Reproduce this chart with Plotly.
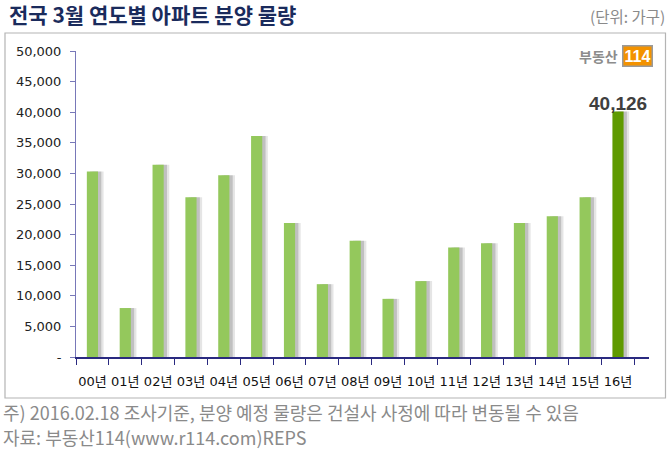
import plotly.graph_objects as go

years = ["00년", "01년", "02년", "03년", "04년", "05년", "06년", "07년", "08년",
         "09년", "10년", "11년", "12년", "13년", "14년", "15년", "16년"]
supply = [30300, 8000, 31400, 26100, 29700, 36100, 21900, 11900, 19000,
          9500, 12400, 17900, 18600, 21900, 23000, 26100, 40126]
ytick_vals = [0, 5000, 10000, 15000, 20000, 25000, 30000, 35000, 40000, 45000, 50000]
ytick_text = ["-", "5,000", "10,000", "15,000", "20,000", "25,000", "30,000",
              "35,000", "40,000", "45,000", "50,000"]

W, H = 670, 452
L, R, T, B = 76, 21, 51, 95
pw, ph = W - L - R, H - T - B


def px(xp):
    return (xp - L) / pw


def py(yp):
    return (H - B - yp) / ph


light = "#94c85c"
dark = "#5f9a00"
colors = [light] * (len(years) - 1) + [dark]
bw = 0.34

fig = go.Figure()
# soft shadow layers
for off, alpha in [(0.17, 0.10), (0.10, 0.16)]:
    fig.add_trace(go.Bar(x=years, y=supply, width=[bw] * len(years),
                         offset=-bw / 2 + off,
                         marker=dict(color=f"rgba(0,0,0,{alpha})", line=dict(width=0)),
                         hoverinfo="skip", showlegend=False))
fig.add_trace(go.Bar(x=years, y=supply, width=[bw] * len(years), offset=-bw / 2,
                     marker=dict(color=colors, line=dict(width=0)), showlegend=False))

fig.update_layout(
    width=W, height=H, margin=dict(l=L, r=R, t=T, b=B),
    paper_bgcolor="white", plot_bgcolor="white",
    barmode="overlay", showlegend=False,
    font=dict(family="DejaVu Sans, Noto Sans CJK KR", size=13, color="#222222"),
    xaxis=dict(type="category", showline=True, linecolor="#2a2a80", linewidth=1.5,
               ticks="outside", tickson="boundaries", ticklen=6, tickcolor="#2a2a80",
               tickangle=0, ticklabelstandoff=12,
               tickfont=dict(family="DejaVu Sans, Noto Sans CJK KR", size=13, color="#111111"),
               showgrid=False, zeroline=False, fixedrange=True),
    yaxis=dict(range=[0, 50000], tickvals=ytick_vals, ticktext=ytick_text,
               showline=True, linecolor="#7878b8", linewidth=1, ticks="outside",
               ticklen=5, tickcolor="#7878b8", showgrid=False, zeroline=False,
               tickfont=dict(family="DejaVu Sans", size=13, color="#222222"),
               ticklabelstandoff=6),
)

# value label for latest year
fig.add_annotation(x=years[-1], y=supply[-1], text=f"<b>{supply[-1]:,}</b>",
                   showarrow=False, yanchor="bottom", yshift=-5,
                   font=dict(family="Liberation Sans", size=19, color="#3f3f3f"))

# frame
fig.add_shape(type="rect", xref="paper", yref="paper",
              x0=px(5), x1=px(665.5), y0=py(398), y1=py(33),
              line=dict(color="#b4b4b4", width=1.2), layer="below")

# title
fig.add_annotation(xref="paper", yref="paper", x=px(7), y=py(14), xanchor="left",
                   yanchor="middle", showarrow=False,
                   text="<b>전국 3월 연도별 아파트 분양 물량</b>",
                   font=dict(family="Noto Sans CJK KR", size=21, color="#1a2b5c"))
fig.add_annotation(xref="paper", yref="paper", x=px(667), y=py(16), xanchor="right",
                   yanchor="middle", showarrow=False, text="(단위: 가구)",
                   font=dict(family="Noto Sans CJK KR", size=15.5, color="#8a8a8a"))

# logo
fig.add_annotation(xref="paper", yref="paper", x=px(620), y=py(56), xanchor="right",
                   yanchor="middle", showarrow=False, text="<b>부동산</b>",
                   font=dict(family="Noto Sans CJK KR", size=14, color="#8c8c8c"))
fig.add_annotation(xref="paper", yref="paper", x=px(622), y=py(56), xanchor="left",
                   yanchor="middle", showarrow=False, text="<b>114</b>",
                   bgcolor="#f39200", bordercolor="#9a9a9a", borderwidth=1.5, borderpad=1,
                   font=dict(family="Liberation Sans Narrow, Liberation Sans", size=16,
                             color="white"))

# footnotes
fig.add_annotation(xref="paper", yref="paper", x=px(1), y=py(412), xanchor="left",
                   yanchor="middle", showarrow=False,
                   text="주) 2016.02.18 조사기준, 분양 예정 물량은 건설사 사정에 따라 변동될 수 있음",
                   font=dict(family="Noto Sans CJK KR", size=18, color="#8a8a8a"))
fig.add_annotation(xref="paper", yref="paper", x=px(1), y=py(437), xanchor="left",
                   yanchor="middle", showarrow=False,
                   text="자료: 부동산114(www.r114.com)REPS",
                   font=dict(family="Noto Sans CJK KR", size=18, color="#8a8a8a"))

fig.write_html("out.html")
